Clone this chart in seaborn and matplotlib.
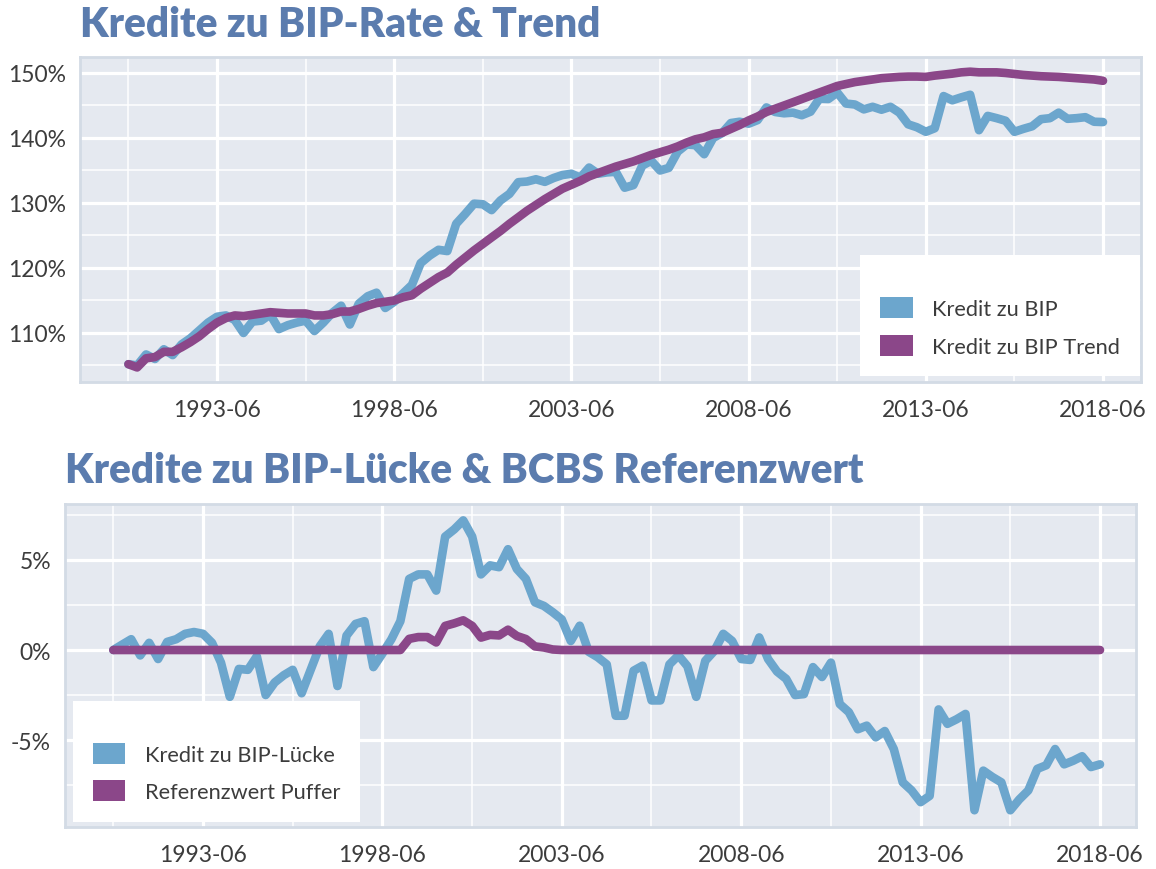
import numpy as np
import pandas as pd
import matplotlib
matplotlib.use("Agg")
import matplotlib.pyplot as plt
import matplotlib.dates as mdates
from matplotlib.ticker import FixedLocator, FuncFormatter
from matplotlib.patches import Patch
import seaborn as sns

# ---------------- data ----------------
dates = pd.date_range("1990-12-01", "2018-06-01", freq="3MS")

kredit_bip = [
    105.2, 105.0, 106.7, 106.0, 107.5, 106.6, 108.25, 109.2, 110.4, 111.6,
    112.5, 112.7, 112.0, 110.0, 111.75, 111.9, 112.85, 110.6, 111.2, 111.6,
    111.9, 110.3, 111.6, 113.1, 114.2, 111.3, 114.5, 115.65, 116.2, 113.85,
    114.8, 116.1, 117.4, 120.75, 121.9, 122.8, 122.6, 126.8, 128.3, 129.9,
    129.8, 128.9, 130.4, 131.4, 133.2, 133.3, 133.65, 133.25, 133.85, 134.3,
    134.5, 133.9, 135.45, 134.5, 134.7, 134.8, 132.35, 132.75, 135.75, 136.5,
    135.0, 135.4, 137.9, 139.0, 138.9, 137.5, 140.0, 140.75, 142.3, 142.5,
    142.2, 142.75, 144.7, 144.0, 143.8, 143.9, 143.5, 144.05, 146.05, 146.0,
    147.0, 145.3, 145.15, 144.4, 144.8, 144.35, 144.8, 143.9, 142.1, 141.65,
    140.95, 141.5, 146.45, 145.8, 146.25, 146.65, 141.2, 143.4, 143.05, 142.65,
    140.95, 141.4, 141.8, 142.9, 143.05, 143.9, 142.95, 143.05, 143.2, 142.5,
    142.45,
]

kredit_bip_trend = [
    105.2, 104.7, 106.1, 106.3, 107.1, 107.1, 107.8, 108.6, 109.5, 110.6,
    111.6, 112.3, 112.7, 112.6, 112.8, 113.0, 113.2, 113.1, 113.0, 113.0,
    113.0, 112.7, 112.7, 112.9, 113.3, 113.3, 113.7, 114.2, 114.6, 114.8,
    115.0, 115.5, 115.8, 116.8, 117.7, 118.6, 119.3, 120.5, 121.6, 122.7,
    123.7, 124.7, 125.7, 126.8, 127.8, 128.8, 129.7, 130.6, 131.4, 132.2,
    132.8, 133.4, 134.1, 134.6, 135.1, 135.6, 136.0, 136.4, 136.9, 137.4,
    137.8, 138.2, 138.7, 139.3, 139.8, 140.1, 140.6, 140.8, 141.4, 142.0,
    142.7, 143.3, 144.0, 144.5, 145.0, 145.5, 146.0, 146.5, 147.0, 147.5,
    148.0, 148.3, 148.6, 148.8, 149.0, 149.2, 149.3, 149.4, 149.45, 149.45,
    149.4, 149.6, 149.75, 149.9, 150.1, 150.2, 150.1, 150.1, 150.1, 150.0,
    149.85, 149.7, 149.6, 149.5, 149.45, 149.4, 149.3, 149.2, 149.1, 149.0,
    148.8,
]

kredit_bip_luecke = [
    0.0, 0.3, 0.6, -0.3, 0.4, -0.5, 0.45, 0.6, 0.9, 1.0,
    0.9, 0.4, -0.7, -2.6, -1.05, -1.1, -0.35, -2.5, -1.8, -1.4,
    -1.1, -2.4, -1.1, 0.2, 0.9, -2.0, 0.8, 1.45, 1.6, -0.95,
    -0.2, 0.6, 1.6, 3.95, 4.2, 4.2, 3.3, 6.3, 6.7, 7.2,
    6.3, 4.2, 4.7, 4.6, 5.6, 4.5, 3.95, 2.65, 2.45, 2.1,
    1.7, 0.5, 1.35, -0.1, -0.4, -0.8, -3.65, -3.65, -1.15, -0.87,
    -2.8, -2.8, -0.8, -0.3, -0.9, -2.6, -0.6, -0.05, 0.9, 0.5,
    -0.5, -0.55, 0.7, -0.5, -1.2, -1.6, -2.5, -2.45, -0.95, -1.5,
    -0.7, -3.0, -3.45, -4.4, -4.2, -4.85, -4.5, -5.5, -7.35, -7.8,
    -8.45, -8.1, -3.3, -4.1, -3.85, -3.55, -8.9, -6.7, -7.05, -7.35,
    -8.9, -8.3, -7.8, -6.6, -6.4, -5.5, -6.35, -6.15, -5.9, -6.5,
    -6.35,
]

referenzwert_puffer = [
    0.0, 0.0, 0.0, 0.0, 0.0, 0.0, 0.0, 0.0, 0.0, 0.0,
    0.0, 0.0, 0.0, 0.0, 0.0, 0.0, 0.0, 0.0, 0.0, 0.0,
    0.0, 0.0, 0.0, 0.0, 0.0, 0.0, 0.0, 0.0, 0.0, 0.0,
    0.0, 0.0, 0.0, 0.62, 0.72, 0.72, 0.42, 1.34, 1.48, 1.65,
    1.34, 0.69, 0.84, 0.81, 1.13, 0.78, 0.61, 0.2, 0.14, 0.03,
    0.0, 0.0, 0.0, 0.0, 0.0, 0.0, 0.0, 0.0, 0.0, 0.0,
    0.0, 0.0, 0.0, 0.0, 0.0, 0.0, 0.0, 0.0, 0.0, 0.0,
    0.0, 0.0, 0.0, 0.0, 0.0, 0.0, 0.0, 0.0, 0.0, 0.0,
    0.0, 0.0, 0.0, 0.0, 0.0, 0.0, 0.0, 0.0, 0.0, 0.0,
    0.0, 0.0, 0.0, 0.0, 0.0, 0.0, 0.0, 0.0, 0.0, 0.0,
    0.0, 0.0, 0.0, 0.0, 0.0, 0.0, 0.0, 0.0, 0.0, 0.0,
    0.0,
]

tick_dates = ["1993-06-01", "1998-06-01", "2003-06-01", "2008-06-01", "2013-06-01", "2018-06-01"]
tick_labels = ["1993-06", "1998-06", "2003-06", "2008-06", "2013-06", "2018-06"]

top_title = "Kredite zu BIP-Rate & Trend"
bottom_title = "Kredite zu BIP-Lücke & BCBS Referenzwert"
top_names = ["Kredit zu BIP", "Kredit zu BIP Trend"]
bottom_names = ["Kredit zu BIP-Lücke", "Referenzwert Puffer"]

# ---------------- style ----------------
BLUE = "#6CA6CD"
PURPLE = "#8B4789"
PANEL = "#E5E9F0"
BORDER = "#D3DBE5"
TITLE_C = "#5B7CAE"
TXT = "#3C3C3C"

sns.set_style("darkgrid", {"axes.facecolor": PANEL, "grid.color": "white"})
plt.rcParams["font.family"] = ["Lato", "DejaVu Sans"]
plt.rcParams["axes.unicode_minus"] = False

df = pd.DataFrame({
    "date": dates,
    "kredit_bip": kredit_bip,
    "trend": kredit_bip_trend,
    "luecke": kredit_bip_luecke,
    "puffer": referenzwert_puffer,
})

fig = plt.figure(figsize=(11.56, 8.70), dpi=100, facecolor="white")
W, H = 1156.0, 870.0


def px_axes(l, t, r, b):
    return fig.add_axes([l / W, 1 - b / H, (r - l) / W, (b - t) / H])


ax1 = px_axes(80, 58, 1141, 383)
ax2 = px_axes(65, 505, 1136, 828)

lw = 6.2
sns.lineplot(data=df, x="date", y="kredit_bip", ax=ax1, color=BLUE, linewidth=lw,
             solid_joinstyle="round", legend=False)
sns.lineplot(data=df, x="date", y="trend", ax=ax1, color=PURPLE, linewidth=lw,
             solid_joinstyle="round", legend=False)
sns.lineplot(data=df, x="date", y="luecke", ax=ax2, color=BLUE, linewidth=lw,
             solid_joinstyle="round", legend=False)
sns.lineplot(data=df, x="date", y="puffer", ax=ax2, color=PURPLE, linewidth=lw,
             solid_joinstyle="round", legend=False)

tnum = mdates.date2num(pd.to_datetime(tick_dates))
minor_num = [tnum[0] - (tnum[1] - tnum[0]) / 2] + [(a + b) / 2 for a, b in zip(tnum[:-1], tnum[1:])]


def setup(ax, left_px, right_px, t0px, t1px, ylim, yt, yminor):
    span = tnum[-1] - tnum[0]
    per_px = span / (t1px - t0px)
    ax.set_xlim(tnum[0] - (t0px - left_px) * per_px, tnum[-1] + (right_px - t1px) * per_px)
    ax.set_ylim(*ylim)
    ax.xaxis.set_major_locator(FixedLocator(tnum))
    ax.set_xticklabels(tick_labels)
    ax.xaxis.set_minor_locator(FixedLocator(minor_num))
    ax.yaxis.set_major_locator(FixedLocator(yt))
    ax.yaxis.set_minor_locator(FixedLocator(yminor))
    ax.yaxis.set_major_formatter(FuncFormatter(lambda v, p: f"{v:g}%"))
    ax.grid(which="major", color="white", linewidth=2.3)
    ax.grid(which="minor", color="white", linewidth=1.1)
    ax.set_axisbelow(True)
    ax.tick_params(which="major", length=6, width=2.2, color="#333333",
                   labelsize=16.5, labelcolor=TXT)
    ax.tick_params(axis="x", which="major", pad=6)
    ax.tick_params(axis="y", which="major", pad=4)
    ax.tick_params(which="minor", length=0)
    ax.set_xlabel("")
    ax.set_ylabel("")
    for s in ax.spines.values():
        s.set_visible(True)
        s.set_color(BORDER)
        s.set_linewidth(2.0)


setup(ax1, 80, 1141, 217, 1103, (102.46, 152.46), [110, 120, 130, 140, 150], [105, 115, 125, 135, 145])
setup(ax2, 65, 1136, 203, 1100, (-9.83, 8.11), [-5, 0, 5], [-7.5, -2.5, 2.5, 7.5])


def legend(ax, names, loc, anchor):
    handles = [Patch(facecolor=BLUE, edgecolor="none"), Patch(facecolor=PURPLE, edgecolor="none")]
    leg = ax.legend(handles, names, loc=loc, bbox_to_anchor=anchor, frameon=True, fancybox=False,
                    framealpha=1, facecolor="white", edgecolor="none", fontsize=15.7,
                    handlelength=1.5, handleheight=1.1, handletextpad=0.9, labelspacing=0.72,
                    borderpad=0.9, borderaxespad=0, title=" ", title_fontsize=6)
    for t in leg.get_texts():
        t.set_color(TXT)
    return leg


legend(ax1, top_names, "lower right", (0.999, 0.018))
legend(ax2, bottom_names, "lower left", (0.0075, 0.0155))

fig.text(80 / W, 1 - 37 / H, top_title, fontsize=29.2, fontweight="heavy", color=TITLE_C,
         ha="left", va="baseline")
fig.text(65 / W, 1 - 483 / H, bottom_title, fontsize=29.2, fontweight="heavy", color=TITLE_C,
         ha="left", va="baseline")

fig.savefig("out.png", dpi=100, facecolor="white")
